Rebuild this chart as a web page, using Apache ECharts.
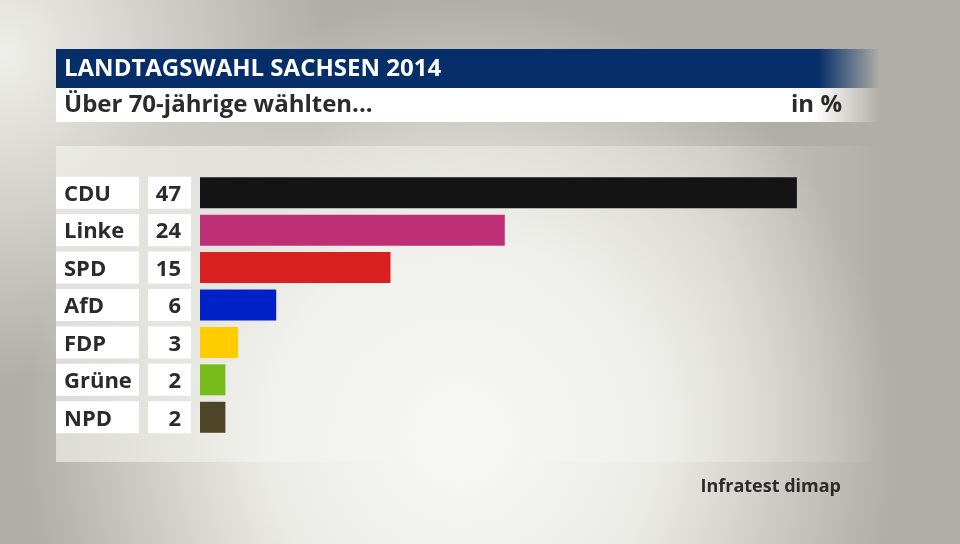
<!DOCTYPE html>
<html>
<head>
<meta charset="utf-8">
<script src="https://cdn.jsdelivr.net/npm/echarts@6/dist/echarts.min.js"></script>
<style>
  html, body { margin: 0; padding: 0; }
  #chart { width: 960px; height: 544px; }
</style>
</head>
<body>
<div id="chart"></div>
<script>
const parties = ['CDU', 'Linke', 'SPD', 'AfD', 'FDP', 'Grüne', 'NPD'];
const shares = [47, 24, 15, 6, 3, 2, 2];
const colors = ['#141414', '#be3075', '#d7201f', '#0021c8', '#ffcc00', '#78bc1b', '#4e4428'];

const font = '"Open Sans", "Noto Sans", sans-serif';
const chart = echarts.init(document.getElementById('chart'));

chart.setOption({
    animation: false,
    textStyle: { fontFamily: font },
    graphic: [
        // background
        {
            type: 'rect', z: -12, silent: true,
            shape: { x: 0, y: 0, width: 960, height: 544 },
            style: { fill: '#b0aea6' }
        },
        {
            type: 'rect', z: -11, silent: true,
            shape: { x: 0, y: 0, width: 960, height: 544 },
            style: {
                fill: new echarts.graphic.RadialGradient(0.48, 0.8, 0.8, [
                    { offset: 0, color: 'rgba(249,249,245,1)' },
                    { offset: 0.45, color: 'rgba(246,246,242,0.85)' },
                    { offset: 1, color: 'rgba(246,246,242,0)' }
                ])
            }
        },
        {
            type: 'rect', z: -11, silent: true,
            shape: { x: 0, y: 0, width: 960, height: 544 },
            style: {
                fill: new echarts.graphic.RadialGradient(0.0, 0.1, 0.6, [
                    { offset: 0, color: 'rgba(246,246,242,0.9)' },
                    { offset: 1, color: 'rgba(246,246,242,0)' }
                ])
            }
        },
        // lighter chart panel
        {
            type: 'rect', z: -9, silent: true,
            shape: { x: 56, y: 146, width: 824, height: 316 },
            style: {
                fill: new echarts.graphic.LinearGradient(0, 0, 1, 0, [
                    { offset: 0, color: 'rgba(245,245,241,0.6)' },
                    { offset: 0.8, color: 'rgba(245,245,241,0.35)' },
                    { offset: 1, color: 'rgba(245,245,241,0)' }
                ])
            }
        },
        // title bar
        {
            type: 'rect', z: -5, silent: true,
            shape: { x: 56, y: 49, width: 824, height: 39 },
            style: {
                fill: new echarts.graphic.LinearGradient(0, 0, 1, 0, [
                    { offset: 0, color: '#062f69' },
                    { offset: 0.925, color: '#062f69' },
                    { offset: 1, color: 'rgba(6,47,105,0)' }
                ])
            }
        },
        {
            type: 'text', left: 64, top: 57,
            style: { text: 'LANDTAGSWAHL SACHSEN 2014', fill: '#ffffff', font: 'bold 24px ' + font }
        },
        // subtitle bar
        {
            type: 'rect', z: -5, silent: true,
            shape: { x: 56, y: 88, width: 824, height: 34 },
            style: {
                fill: new echarts.graphic.LinearGradient(0, 0, 1, 0, [
                    { offset: 0, color: '#ffffff' },
                    { offset: 0.92, color: '#ffffff' },
                    { offset: 1, color: 'rgba(255,255,255,0)' }
                ])
            }
        },
        {
            type: 'text', left: 64, top: 93,
            style: { text: 'Über 70-jährige wählten...', fill: '#2b2b2b', font: 'bold 24px ' + font }
        },
        {
            type: 'text', right: 118, top: 93,
            style: { text: 'in %', fill: '#2b2b2b', font: 'bold 24px ' + font }
        },
        {
            type: 'text', right: 119, top: 478,
            style: { text: 'Infratest dimap', fill: '#2b2b2b', font: 'bold 18px ' + font }
        }
    ],
    grid: { left: 200, top: 174, width: 635, height: 262 },
    xAxis: { type: 'value', min: 0, max: 50, show: false },
    yAxis: [
        {
            type: 'category', data: parties, inverse: true, position: 'left',
            axisLine: { show: false }, axisTick: { show: false },
            axisLabel: {
                margin: 61,
                formatter: v => '{a|' + v + '}',
                rich: {
                    a: {
                        width: 75, height: 28, lineHeight: 28, padding: [4, 0, 0, 8],
                        backgroundColor: '#ffffff', align: 'left',
                        color: '#2b2b2b', fontWeight: 'bold', fontSize: 22, fontFamily: font
                    }
                }
            }
        },
        {
            type: 'category', data: shares.map(String), inverse: true, position: 'left',
            axisLine: { show: false }, axisTick: { show: false },
            axisLabel: {
                margin: 9,
                formatter: v => '{b|' + v + '}',
                rich: {
                    b: {
                        width: 33, height: 28, lineHeight: 28, padding: [4, 10, 0, 0],
                        backgroundColor: '#ffffff', align: 'right',
                        color: '#2b2b2b', fontWeight: 'bold', fontSize: 22, fontFamily: font
                    }
                }
            }
        }
    ],
    series: [{
        type: 'bar',
        data: shares.map((v, i) => ({ value: v, itemStyle: { color: colors[i] } })),
        barWidth: 31
    }]
});
</script>
</body>
</html>
